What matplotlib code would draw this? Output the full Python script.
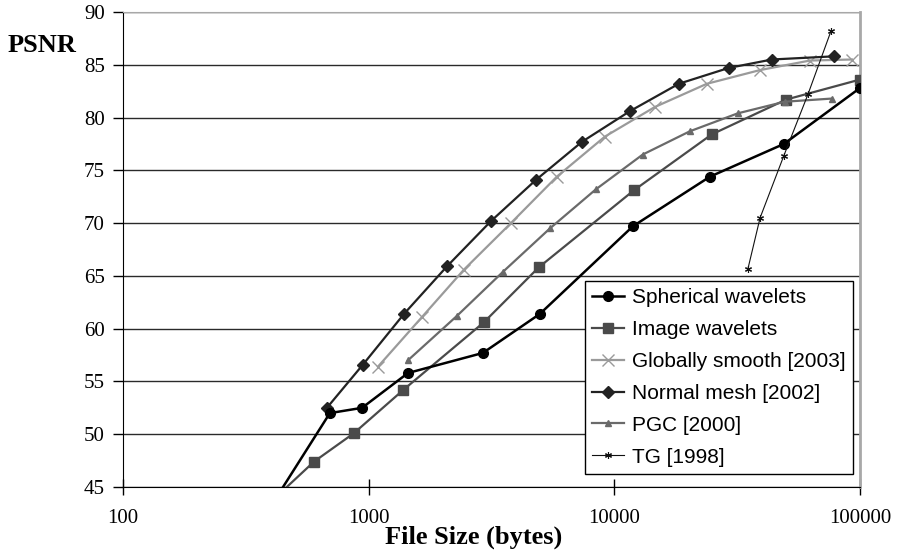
import matplotlib
matplotlib.use("Agg")
import matplotlib.pyplot as plt
from matplotlib.ticker import FixedLocator, NullLocator, FuncFormatter

# Données (taille en octets, PSNR en dB)
sph_x = [408, 695, 940, 1446, 2917, 4977, 11900, 24500, 49000, 100000]
sph_y = [43.5, 52.0, 52.5, 55.8, 57.7, 61.4, 69.7, 74.4, 77.5, 82.8]

img_x = [396, 599, 871, 1384, 2943, 4920, 12000, 24900, 50000, 100000]
img_y = [43.5, 47.4, 50.1, 54.2, 60.6, 65.8, 73.1, 78.4, 81.7, 83.6]

glob_x = [1091, 1648, 2444, 3794, 5835, 9160, 14620, 23800, 39200, 62500, 92700]
glob_y = [56.4, 61.1, 65.6, 70.0, 74.4, 78.2, 81.0, 83.2, 84.5, 85.4, 85.5]

nm_x = [676, 948, 1393, 2083, 3150, 4800, 7380, 11560, 18300, 29200, 43800, 78300]
nm_y = [52.5, 56.6, 61.4, 65.9, 70.2, 74.1, 77.7, 80.6, 83.2, 84.7, 85.5, 85.8]

pgc_x = [1445, 2285, 3527, 5470, 8410, 13060, 20300, 31800, 49400, 76900]
pgc_y = [57.0, 61.2, 65.4, 69.5, 73.2, 76.5, 78.7, 80.4, 81.5, 81.8]

tg_x = [35000, 39200, 49000, 61400, 76200]
tg_y = [65.7, 70.5, 76.4, 82.2, 88.2]

y_ticks = [45, 50, 55, 60, 65, 70, 75, 80, 85, 90]
x_ticks = [100, 1000, 10000, 100000]

fig = plt.figure(figsize=(8.98, 5.53), dpi=100)
ax = fig.add_axes([123 / 898, 1 - 487 / 553, (860 - 123) / 898, (487 - 12) / 553])

serif = "Liberation Serif"
sans = "Liberation Sans"

# lignes de la grille
for v in y_ticks:
    ax.axhline(v, color="#2a2a2a", lw=1.0, zorder=1)

ax.plot(sph_x, sph_y, color="black", lw=1.8, marker="o", ms=7, label="Spherical wavelets", zorder=5)
ax.plot(img_x, img_y, color="#4a4a4a", lw=1.6, marker="s", ms=7.5, label="Image wavelets", zorder=4)
ax.plot(glob_x, glob_y, color="#9a9a9a", lw=1.6, marker="x", ms=9, mew=1.0, label="Globally smooth [2003]", zorder=4)
ax.plot(nm_x, nm_y, color="#222222", lw=1.6, marker="D", ms=6, label="Normal mesh [2002]", zorder=4)
ax.plot(pgc_x, pgc_y, color="#6a6a6a", lw=1.6, marker="^", ms=4, label="PGC [2000]", zorder=4)
ax.plot(tg_x, tg_y, color="#111111", lw=0.8, marker=(6, 2, 0), ms=5, mew=0.8, label="TG [1998]", zorder=6)

ax.set_xscale("log")
ax.set_xlim(100, 100000)
ax.set_ylim(45, 90)
ax.xaxis.set_major_locator(FixedLocator(x_ticks))
ax.xaxis.set_minor_locator(NullLocator())
ax.xaxis.set_major_formatter(FuncFormatter(lambda v, p: "%d" % v))
ax.set_yticks(y_ticks)

ax.tick_params(axis="x", direction="inout", length=12, width=1, pad=10, labelsize=15)
ax.tick_params(axis="y", direction="out", length=7, width=1, pad=6, labelsize=15)
for lab in ax.get_xticklabels() + ax.get_yticklabels():
    lab.set_fontfamily(serif)

ax.spines["left"].set_color("black")
ax.spines["bottom"].set_color("black")
ax.spines["top"].set_color("#a8a8a8")
ax.spines["right"].set_color("#a8a8a8")
ax.spines["right"].set_linewidth(2)

fig.text(474 / 898, 1 - 537 / 553, "File Size (bytes)", fontfamily=serif, fontweight="bold", fontsize=19,
         ha="center", va="center")
fig.text(8 / 898, 1 - 46 / 553, "PSNR", fontfamily=serif, fontweight="bold", fontsize=19,
         ha="left", va="center")

leg = ax.legend(loc="lower right", bbox_to_anchor=(853 / 898, 1 - 474 / 553), bbox_transform=fig.transFigure,
                prop={"family": sans, "size": 15}, frameon=True, fancybox=False, edgecolor="black",
                framealpha=1, borderpad=0.35, labelspacing=0.62, handlelength=1.5, handletextpad=0.4,
                borderaxespad=0)
leg.get_frame().set_linewidth(1)

fig.savefig("out.png", dpi=100)
